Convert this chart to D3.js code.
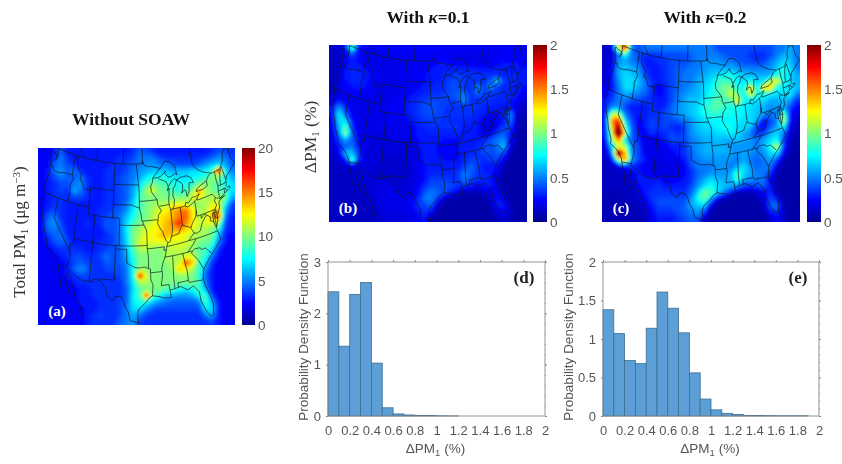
<!DOCTYPE html>
<html>
<head>
<meta charset="utf-8">
<script src="https://cdn.jsdelivr.net/npm/d3@7"></script>
<style>
  html, body { margin: 0; background: #fff; }
  svg { display: block; filter: blur(0.45px); }
  .serif { font-family: "Liberation Serif", serif; }
  .sans { font-family: "Liberation Sans", sans-serif; }
</style>
</head>
<body>
<svg id="chart" width="842" height="464"></svg>
<script>
// Histogram values, one per 0.1 % bin
const binEdges = d3.range(0, 2, 0.1);
const pdfKappa1 = [2.42, 1.36, 2.37, 2.6, 1.03, 0.16, 0.04, 0.02, 0.01, 0.008, 0.004, 0.002, 0, 0, 0, 0, 0, 0, 0, 0];
const pdfKappa2 = [1.38, 1.07, 0.72, 0.68, 1.14, 1.61, 1.4, 1.08, 0.56, 0.22, 0.08, 0.035, 0.02, 0.008, 0.006, 0.005, 0.003, 0.003, 0.003, 0];

// Map fields, 30 columns by 27 rows
const totalPm1 = [
  [2.5,2.5,3,4.5,3,3,3,3,3,3,3,3,3,3,3.5,4.5,4,3.5,3,3,3,3,3,3,3,3,3.5,4,4,3.5],
  [2.5,2.5,3.5,5,3.5,3,3,3,3,3,3,3,3.5,3.5,4,5,5,5,4,3.5,3.5,3.5,3.5,3.5,3.5,4,4.5,5.5,5,4],
  [2.5,2.5,4.5,5,4,3.5,3,3,3,3,3,3.5,3.5,4,4.5,5,5.5,5.5,5,5,4.5,4,4,4,4.5,5.5,6.5,7,6,4.5],
  [2.5,3,5,5.5,4.5,5,3.5,3,3,3,3.5,3.5,3.5,4,5,5.5,6,6.5,6.5,6.5,6,6.5,6.5,7,7,7.5,9,19,7.5,5],
  [2.5,3,4,5,4.5,4.5,5,3.5,3,3,3.5,3.5,4,4.5,5,6,7.5,8,8,8,7.5,7,7,7.5,8,8.5,10,10,8,6],
  [2.5,3,3.5,4,4,5,5.5,3.5,3,3,3.5,3.5,4,4.5,5.5,7,9,10,9.5,9,8,8,8,8.5,10,10.5,10,9,8,7],
  [2.5,3,3.5,4,3.5,6,5,3.5,3,3,3.5,3.5,4,4.5,6,8,11,12,10,9.5,9,8,9,10,15,11,10,9,9,7],
  [2.5,3,3.5,3.5,3.5,4,4,3.5,3,3,3.5,3.5,4,4.5,6,9,10,10,10,10,10,10,10,12,13,11,11,11,10,6],
  [2.5,3,3.5,3.5,3,3,3,3,3,3,3.5,3.5,4,5,7,9,10,10.5,11,11,12,12,12,11,10,11,12,12,8,4],
  [2.5,3.5,4,3.5,3,3,3,3,3,3.5,3.5,4,4.5,5.5,7.5,9,10,11,12,12.5,14,15,15.5,13,11,11,13,14,6,3.5],
  [2.5,4.5,5,3.5,3,3,3,3,3,3.5,4,4,5,6.5,8,9.5,10,11,13,13.5,14,15.5,16,13,11,12,14,16.5,5,3],
  [2.5,5,5.5,4,3,3,3,3.5,3,3.5,4.5,4,5,7,9,10,11,12,13,14,15,17.5,15,13,11.5,12,12,11,4,3],
  [2.5,4.5,5,4.5,3,3,3,3,3,3,4,4,5,7.5,10,11,12,12.5,13,14,14,14.5,13.5,12,11,11,10,8,3.5,3],
  [2.5,3.5,4.5,5,3.5,3,3,3,3,3,3.5,4,5,7,10,11,12.5,12.5,13.5,14,13,12.5,12,11,11,10.5,10,6,3,2.5],
  [2.5,3,4,4.5,4,3,3,3,3,3.5,3.5,4,5,7,10,12,12,12,12,12,12,12,12,11,10,9.5,9,5,3,2.5],
  [2.5,2.5,3,3.5,3.5,3.5,3.5,3,3,3.5,4,4,4.5,6.5,9,11,11,10.5,10,11,11.5,11.5,11,10.5,9.5,9,7,3.5,2.5,2.5],
  [2.5,2.5,2.5,3,3.5,4,4,3.5,3.5,4,5,4,4.5,6,8.5,10,10,10,10,11,11,11,12,12,9.5,8.5,5,3,2.5,2.5],
  [2.5,2.5,2.5,2.5,3,4,4.5,4,3.5,3.5,4.5,4,4.5,5.5,8,10,10,10,10,10.5,11,11.5,16.5,14,9,7,3.5,2.5,2.5,2.5],
  [2.5,2.5,2.5,2.5,3,4.5,5.5,4.5,3.5,3.5,4,4,4,5,8,11,10.5,10,10,10,10.5,14,12.5,11,9,5.5,3,2.5,2.5,2.5],
  [2.5,2.5,2.5,2.5,3,3.5,4,4,3.5,3.5,3.5,3.5,4,5,8,18,12,10,10,10,10,10.5,10.5,10,8.5,4.5,3,2.5,2.5,2.5],
  [2.5,2.5,2.5,2.5,2.5,3,3.5,3.5,3.5,3.5,3.5,3.5,3.5,5,7.5,11,11,10,10,10,10,10,10,10,9,5,3,2.5,2.5,2.5],
  [2.5,2.5,2.5,2.5,2.5,2.5,3,3,3.5,3.5,3.5,3.5,3.5,4.5,7,9.5,10,10,10,9.5,9,8,7.5,8,9,6,3,2.5,2.5,2.5],
  [2.5,2.5,2.5,2.5,2.5,2.5,3,3,3.5,3.5,3.5,3.5,3.5,4.5,7.5,9,17,9.5,8,6.5,6,5.5,5.5,6,8,9,4,2.5,2.5,2.5],
  [2.5,2.5,2.5,2.5,2.5,2.5,3,3,3,3.5,3.5,3.5,4,4.5,7.5,8.5,8,6.5,5.5,5,4.5,4.5,4.5,4.5,5,9,6,3,2.5,2.5],
  [2.5,2.5,2.5,2.5,2.5,2.5,2.5,3,3,3.5,3.5,3.5,4,5,7,7,5.5,4.5,4,4,4,4,4,4,4,7.5,7,3,2.5,2.5],
  [2.5,2.5,2.5,2.5,2.5,2.5,2.5,3,3.5,4,3.5,3.5,4,5,6,5,4,3.5,3.5,3.5,3.5,3.5,3.5,3.5,3.5,5,6,3,2.5,2.5],
  [2.5,2.5,2.5,2.5,2.5,2.5,2.5,3,3.5,3.5,3.5,3.5,4.5,5,5.5,4,3.5,3.5,3.5,3.5,3.5,3.5,3.5,3.5,3.5,3.5,4,3,2.5,2.5]
];
const deltaKappa1 = [
  [.15,.15,.3,.9,.3,.25,.25,.25,.25,.25,.28,.28,.28,.28,.28,.28,.28,.25,.25,.25,.25,.25,.25,.25,.25,.25,.25,.28,.28,.28],
  [.12,.15,.25,.4,.28,.25,.22,.22,.22,.25,.25,.25,.25,.25,.25,.25,.25,.25,.22,.22,.22,.22,.22,.22,.22,.25,.25,.25,.28,.28],
  [.12,.15,.25,.3,.28,.25,.22,.22,.22,.22,.22,.25,.25,.25,.25,.28,.28,.28,.25,.25,.22,.22,.2,.2,.22,.25,.28,.28,.28,.25],
  [.12,.15,.28,.32,.3,.28,.25,.22,.22,.22,.22,.25,.25,.25,.25,.28,.3,.3,.3,.3,.3,.3,.28,.28,.28,.3,.3,.3,.3,.28],
  [.12,.18,.3,.32,.32,.3,.28,.22,.2,.2,.22,.25,.25,.25,.28,.3,.3,.33,.35,.38,.35,.35,.35,.35,.35,.35,.32,.32,.32,.3],
  [.12,.18,.28,.32,.32,.3,.25,.22,.2,.2,.22,.25,.25,.25,.28,.3,.3,.35,.4,.4,.38,.35,.35,.35,.45,.7,.38,.35,.32,.3],
  [.12,.18,.25,.28,.3,.28,.25,.22,.2,.2,.22,.25,.25,.28,.3,.32,.33,.35,.4,.42,.35,.35,.55,.4,.55,.38,.33,.32,.3,.28],
  [.15,.2,.25,.25,.25,.25,.22,.22,.2,.2,.22,.25,.28,.3,.33,.35,.35,.38,.42,.45,.5,.35,.45,.38,.35,.35,.33,.33,.3,.22],
  [.2,.3,.25,.22,.22,.22,.22,.22,.22,.22,.25,.28,.32,.35,.38,.4,.4,.38,.38,.4,.55,.35,.35,.35,.35,.33,.32,.3,.25,.15],
  [.3,.55,.35,.22,.2,.2,.2,.22,.22,.25,.25,.28,.32,.36,.42,.42,.4,.38,.35,.35,.35,.35,.35,.33,.3,.3,.3,.3,.2,.12],
  [.3,.75,.45,.25,.2,.2,.22,.22,.22,.25,.25,.28,.33,.36,.4,.42,.4,.36,.36,.36,.36,.35,.33,.3,.28,.28,.3,.55,.15,.1],
  [.25,.7,.7,.3,.22,.2,.22,.24,.22,.25,.22,.25,.3,.33,.36,.38,.38,.35,.34,.34,.34,.33,.3,.25,.14,.25,.3,.5,.12,.08],
  [.22,.6,.95,.35,.22,.2,.22,.22,.22,.22,.22,.22,.25,.3,.33,.35,.35,.35,.35,.35,.3,.3,.3,.2,.14,.28,.38,.4,.1,.08],
  [.2,.5,1.05,.45,.22,.2,.2,.2,.2,.2,.22,.22,.25,.3,.3,.32,.32,.32,.32,.33,.3,.3,.28,.22,.25,.38,.45,.3,.08,.08],
  [.18,.4,.6,.45,.25,.22,.18,.18,.18,.2,.2,.22,.22,.28,.3,.3,.3,.28,.28,.28,.3,.3,.3,.33,.42,.5,.55,.25,.08,.07],
  [.16,.3,.45,.5,.3,.2,.18,.18,.18,.18,.18,.18,.2,.28,.3,.3,.28,.28,.28,.28,.3,.3,.33,.4,.4,.5,.65,.2,.08,.07],
  [.15,.22,.65,.65,.35,.2,.18,.18,.18,.18,.18,.18,.18,.25,.3,.3,.28,.28,.28,.28,.3,.33,.36,.4,.4,.45,.4,.12,.07,.07],
  [.14,.18,.3,.95,.35,.2,.18,.18,.15,.15,.15,.15,.18,.25,.3,.3,.3,.28,.28,.28,.33,.38,.38,.33,.38,.38,.2,.08,.07,.07],
  [.13,.14,.15,.2,.22,.2,.18,.16,.15,.15,.15,.15,.18,.22,.28,.3,.3,.3,.3,.3,.38,.45,.38,.3,.3,.28,.1,.07,.07,.07],
  [.13,.13,.14,.15,.18,.2,.18,.16,.15,.15,.15,.15,.18,.22,.28,.33,.33,.33,.33,.36,.5,.45,.36,.33,.3,.2,.08,.07,.07,.07],
  [.13,.13,.13,.14,.16,.18,.18,.18,.18,.18,.15,.15,.18,.22,.28,.38,.38,.38,.36,.36,.5,.4,.36,.33,.3,.14,.07,.07,.07,.07],
  [.13,.13,.13,.13,.15,.16,.18,.18,.2,.18,.18,.18,.18,.25,.35,.42,.42,.42,.4,.36,.35,.3,.25,.28,.3,.2,.07,.07,.07,.07],
  [.12,.12,.12,.13,.14,.15,.18,.2,.2,.2,.2,.2,.2,.28,.42,.5,.45,.4,.3,.2,.1,.09,.1,.14,.2,.25,.1,.07,.07,.07],
  [.12,.12,.12,.12,.13,.14,.16,.2,.22,.22,.22,.22,.24,.33,.5,.5,.35,.14,.08,.07,.07,.07,.07,.07,.14,.3,.2,.08,.07,.07],
  [.12,.12,.12,.12,.12,.13,.15,.18,.22,.22,.22,.22,.25,.35,.4,.45,.14,.07,.07,.07,.07,.07,.07,.07,.09,.3,.3,.1,.07,.07],
  [.12,.12,.12,.12,.12,.12,.13,.16,.2,.2,.2,.2,.22,.3,.35,.25,.08,.07,.07,.07,.07,.07,.07,.07,.08,.2,.25,.12,.08,.08],
  [.12,.12,.12,.12,.12,.12,.12,.14,.18,.18,.18,.18,.2,.25,.3,.1,.07,.07,.07,.07,.07,.07,.07,.07,.07,.12,.15,.12,.08,.08]
];
const deltaKappa2 = [
  [.15,.2,1.2,1.7,.5,.4,.5,.5,.5,.5,.5,.5,.5,.5,.5,.5,.5,.4,.4,.4,.4,.4,.4,.4,.4,.4,.5,.5,.6,.5],
  [.15,.2,.5,.8,.5,.4,.35,.35,.35,.4,.4,.4,.4,.45,.5,.5,.5,.5,.45,.4,.4,.4,.35,.35,.35,.4,.5,.6,.6,.5],
  [.15,.2,.55,.6,.5,.45,.3,.3,.35,.35,.4,.4,.4,.45,.5,.55,.55,.55,.5,.5,.45,.4,.4,.35,.4,.5,.6,.7,.65,.5],
  [.15,.25,.6,.65,.6,.55,.35,.3,.3,.35,.4,.45,.45,.5,.5,.55,.6,.6,.6,.6,.55,.5,.5,.5,.5,.55,.65,.8,.7,.5],
  [.15,.3,.6,.7,.65,.6,.4,.3,.3,.35,.4,.45,.5,.5,.55,.6,.65,.7,.75,.8,.7,.65,.6,.6,.6,.6,.8,.8,.7,.6],
  [.15,.3,.55,.7,.7,.65,.5,.35,.3,.35,.4,.45,.5,.5,.6,.65,.7,.85,.9,.85,.75,.7,.8,.7,.7,1.1,1.3,.8,.7,.6],
  [.2,.3,.5,.7,.7,.6,.5,.35,.25,.3,.4,.45,.5,.55,.6,.7,.75,.9,1,1,.8,.8,1.3,.75,1.3,1.4,.8,.75,.7,.65],
  [.25,.35,.5,.6,.55,.5,.45,.35,.25,.3,.4,.5,.55,.6,.6,.7,.8,.85,.95,1.2,1,.75,1.2,.85,.8,.75,.7,.7,.75,.5],
  [.3,.4,.5,.5,.4,.4,.35,.35,.3,.3,.4,.5,.6,.65,.65,.75,.85,.95,.9,.9,1.3,.8,.7,.7,.7,.6,.6,.65,.55,.35],
  [.3,.55,.55,.4,.3,.3,.3,.35,.3,.35,.45,.55,.6,.65,.7,.8,.9,.95,.85,.8,.8,.75,.7,.65,.6,.55,.55,.6,.4,.25],
  [.3,1.1,1.1,.5,.35,.3,.3,.35,.35,.4,.45,.55,.6,.65,.7,.8,.85,.85,.8,.8,.75,.75,.7,.65,.6,.5,.5,1,.3,.2],
  [.3,1.5,1.7,.7,.4,.25,.3,.4,.35,.4,.4,.45,.5,.55,.65,.7,.75,.75,.75,.75,.75,.7,.7,.6,.25,.4,.5,1.2,.25,.15],
  [.3,1.3,2.1,.9,.45,.25,.3,.4,.35,.4,.35,.3,.4,.55,.65,.7,.7,.75,.8,.8,.7,.7,.65,.35,.25,.45,.6,.8,.2,.12],
  [.3,1.1,2.6,1.1,.45,.3,.25,.35,.3,.35,.4,.35,.4,.55,.6,.65,.65,.7,.7,.75,.7,.6,.5,.35,.4,.6,.7,.5,.15,.1],
  [.25,1,1.5,.7,.45,.35,.2,.2,.25,.3,.4,.4,.4,.5,.55,.6,.6,.65,.6,.6,.65,.6,.55,.5,.6,.7,.8,.4,.12,.08],
  [.2,.7,1.2,1.1,.5,.4,.2,.2,.2,.25,.3,.3,.35,.5,.55,.6,.6,.6,.6,.55,.55,.55,.55,.5,.6,.8,1.2,.35,.1,.08],
  [.15,.5,2.3,1.4,.5,.4,.25,.2,.2,.2,.25,.3,.35,.45,.55,.6,.6,.6,.6,.6,.55,.6,.55,.5,.55,.7,.75,.25,.08,.06],
  [.14,.3,1.1,1.5,.6,.4,.3,.2,.2,.2,.2,.25,.3,.45,.5,.55,.55,.55,.55,.55,.5,.6,.5,.45,.5,.6,.4,.12,.06,.06],
  [.13,.15,.2,.3,.35,.3,.25,.2,.15,.2,.2,.2,.25,.4,.5,.5,.5,.55,.55,.5,.6,.7,.55,.45,.5,.5,.2,.08,.06,.06],
  [.12,.12,.13,.15,.25,.3,.25,.2,.2,.2,.2,.2,.25,.35,.45,.5,.55,.55,.55,.6,.9,.7,.6,.5,.5,.35,.12,.06,.06,.06],
  [.12,.12,.12,.13,.2,.3,.3,.3,.3,.25,.25,.25,.3,.35,.5,.6,.7,.65,.6,.6,.9,.6,.55,.5,.5,.2,.08,.06,.06,.06],
  [.12,.12,.12,.12,.15,.25,.3,.3,.35,.3,.3,.3,.3,.4,.55,.7,.8,.7,.65,.6,.55,.4,.35,.4,.45,.3,.08,.06,.06,.06],
  [.11,.11,.11,.12,.13,.2,.3,.35,.35,.35,.35,.35,.35,.45,.7,1,.9,.7,.5,.3,.12,.1,.12,.15,.25,.35,.15,.06,.06,.06],
  [.11,.11,.11,.11,.12,.15,.25,.35,.4,.4,.4,.4,.4,.55,.8,.95,.6,.2,.1,.08,.08,.08,.08,.08,.2,.4,.3,.08,.06,.06],
  [.1,.1,.1,.1,.11,.12,.2,.3,.4,.4,.4,.4,.45,.6,.65,.7,.2,.08,.07,.07,.07,.07,.07,.08,.1,.45,.5,.12,.06,.06],
  [.1,.1,.1,.1,.1,.11,.15,.25,.35,.35,.35,.4,.45,.5,.55,.4,.1,.07,.07,.07,.07,.07,.07,.07,.08,.3,.35,.12,.06,.06],
  [.1,.1,.1,.1,.1,.1,.12,.2,.3,.3,.3,.35,.4,.45,.45,.15,.07,.07,.07,.07,.07,.07,.07,.07,.07,.15,.25,.15,.07,.07]
];

// Coast, border and lake lines as [lon, lat]
const coastLines = [
  [[-122.75,49],[-122.5,48.5],[-122.4,47.6],[-122.9,47.2],[-122.6,48.1],[-123.5,48.15],[-124.7,48.38],[-124.65,47.7],[-124.1,46.9],[-124,46.25],[-124,45],[-124.1,44],[-124.5,42.8],[-124.2,42],[-124.1,41],[-124.4,40.4],[-123.8,39.5],[-123,38.3],[-122.5,37.7],[-121.9,36.6],[-120.7,35.2],[-120.6,34.55],[-119.2,34.15],[-118.4,33.8],[-117.3,33],[-117.1,32.53],[-116,30.8],[-115.5,29.5]],
  [[-114.8,31.8],[-114.6,30.5],[-113.3,28.8]],
  [[-114.8,31.8],[-113.5,31.3],[-112.8,30],[-112,28.8],[-110.8,27.9],[-109.5,26]],
  [[-117.1,32.53],[-114.72,32.72],[-114.8,32.5],[-111.07,31.33],[-108.2,31.33],[-108.2,31.78],[-106.5,31.75],[-104.9,30.6],[-104.5,29.6],[-103.2,29],[-102.7,29.7],[-101.4,29.77],[-100.7,29.1],[-100.3,28.3],[-99.5,27.5],[-99.1,26.4],[-97.15,25.95]],
  [[-97.15,25.95],[-97.8,24],[-97.4,22]],
  [[-97.15,25.95],[-97.4,27.3],[-97,28],[-95.3,28.9],[-94.7,29.4],[-93.8,29.7],[-92.3,29.5],[-91,29.2],[-89.4,29.1],[-89.6,30.15],[-88,30.3],[-87,30.4],[-85.4,29.7],[-84,30.05],[-82.8,29],[-82.7,27.7],[-81.8,26],[-81,25.15],[-80.4,25.2],[-80.05,26.8],[-80.6,28.4],[-81.3,29.8],[-81.4,30.7],[-80.9,32],[-79.2,33.2],[-77.9,33.9],[-76.5,34.7],[-75.5,35.25],[-75.9,36.6],[-76,36.9],[-76.4,37.9],[-76.4,39.2],[-76,39.4],[-75.9,38],[-75.95,37.15],[-75.3,38],[-75.1,38.6],[-75.5,39.4],[-75.4,39.8],[-74.9,38.95],[-74.1,39.7],[-74,40.5],[-73.9,40.6],[-72,41],[-73.7,40.9],[-72,41.3],[-71,41.5],[-70.6,41.6],[-70,41.7],[-70.2,42],[-70.7,41.9],[-71,42.3],[-70.7,43],[-70.2,43.6],[-69,44],[-67,44.8],[-67.4,45.3],[-67.8,45.7],[-67.8,47.07],[-68.3,47.35],[-69.2,47.45],[-70,46.7],[-70.3,45.9],[-71.3,45.3],[-71.5,45],[-74.7,45],[-75.3,44.85],[-76.3,44.2]],
  [[-76.2,44.1],[-76.2,43.5],[-77.5,43.25],[-79,43.27],[-79.7,43.3],[-79.3,43.65],[-78,43.95],[-76.5,44.2],[-76.2,44.1]],
  [[-78.9,42.8],[-80,42.15],[-81.3,41.75],[-82.7,41.45],[-83.4,41.7],[-83.1,42.2],[-82.4,42],[-81,42.65],[-80,42.6],[-78.9,42.85]],
  [[-82.45,43],[-82.55,43.9],[-83,44.05],[-83.9,43.7],[-83.4,44.3],[-83.3,45],[-84.7,45.75],[-84.1,46],[-83.5,46.05],[-81.7,46],[-80.5,45.5],[-80,44.7],[-81.3,44.9],[-81.7,43.6],[-82.45,43]],
  [[-87.5,41.65],[-87.05,41.7],[-86.5,42.1],[-86.2,43],[-86.5,43.7],[-86.2,44.7],[-85.6,45],[-85,45.7],[-84.7,45.8],[-85.5,46.05],[-86.5,45.8],[-87.6,45.1],[-88,44.55],[-87.4,44.9],[-87.6,44],[-87.9,43],[-87.8,42.2],[-87.5,41.65]],
  [[-84.6,46.5],[-85,46.8],[-86.5,46.5],[-87.4,46.5],[-88.4,47.35],[-88,47.45],[-89.5,46.85],[-90.8,46.7],[-92.1,46.75],[-90.5,47.6],[-89.5,48],[-88.2,48.9],[-86.5,48.75],[-85,47.95],[-84.6,46.5]],
  [[-89.5,48],[-90.8,48.2],[-92.5,48.5],[-93.8,48.55],[-94.7,48.8],[-95.15,49.4],[-95.15,49],[-122.75,49]],
  [[-95.15,49],[-95.15,53]], [[-101.4,49],[-101.4,53]], [[-110,49],[-110,53]], [[-114.1,49],[-120,53]],
  [[-79.5,53],[-79.5,47.5],[-78.5,46.5],[-76.5,45.6],[-74.5,45.1]],
  [[-67.8,47.07],[-66,48.1]], [[-69.2,47.45],[-68,48.5]]
];
const stateLines = [
  [[-124,46.25],[-123.2,46.15],[-122.9,45.7],[-122.2,45.6],[-121.2,45.65],[-119.3,45.93],[-116.92,46]],
  [[-117.03,49],[-117.04,46.4],[-116.92,46],[-116.5,45.5],[-116.9,44.9],[-117.2,44.4],[-117.03,43.8],[-117.03,42]],
  [[-124.2,42],[-111.05,42]], [[-111.05,42],[-111.05,41],[-109.05,41],[-109.05,31.33]],
  [[-116.05,49],[-116.05,48],[-115.7,47.5],[-114.7,46.7],[-114.3,46.65],[-114.5,45.6],[-113.9,45.6],[-113.5,45.1],[-113,44.45],[-111.5,44.55],[-111.05,44.5]],
  [[-111.05,45],[-111.05,42]], [[-111.05,45],[-104.05,45]], [[-104.05,49],[-104.05,41]],
  [[-120,42],[-120,39],[-114.63,35],[-114.4,34.2],[-114.7,33.4],[-114.72,32.72]],
  [[-114.63,35],[-114.7,36.1],[-114.05,36.2],[-114.05,42]], [[-114.05,37],[-94.62,37]],
  [[-109.05,41],[-102.05,41],[-102.05,37]], [[-104.05,43],[-98.5,43],[-97.9,42.8],[-96.45,42.5]],
  [[-104.05,45.94],[-96.56,45.94]], [[-102.05,40],[-95.3,40]],
  [[-103,37],[-103,32],[-106.6,32],[-106.5,31.75]],
  [[-103,36.5],[-100,36.5],[-100,34.56],[-99,34.2],[-97.9,33.9],[-97,33.8],[-95.5,33.9],[-94.48,33.64],[-94.04,33.55],[-94.04,32],[-93.55,31.2],[-93.8,30],[-93.8,29.7]],
  [[-94.62,36.5],[-94.43,35.4],[-94.48,33.64]],
  [[-97.2,49],[-96.6,46.3],[-96.56,45.94],[-96.45,45.3],[-96.45,42.5],[-96,41.5],[-95.85,40.7],[-95.3,40],[-94.6,39.1],[-94.62,36.5]],
  [[-96.45,43.5],[-91.22,43.5]], [[-95.77,40.58],[-91.7,40.6],[-91.4,40.4]],
  [[-92.1,46.75],[-92.3,46.1],[-92.9,45.6],[-92.75,44.75],[-91.22,43.5],[-91.1,42.7],[-90.2,41.8],[-91.1,41.2],[-91.4,40.4],[-91.5,40],[-90.7,39],[-90.2,38.7],[-90.2,38.4],[-89.5,37.3],[-89.15,37],[-89.5,36.5],[-89.7,36],[-90.1,35.1],[-90.6,34.5],[-91.2,33.5],[-91.1,32.5],[-91.6,31],[-89.75,31],[-89.6,30.2]],
  [[-90.65,42.5],[-87.8,42.5]], [[-90.4,46.55],[-88.1,45.9],[-87.6,45.1]],
  [[-87.53,41.7],[-87.53,39.35],[-87.6,38.7],[-88.05,37.8]],
  [[-89.15,37],[-88.5,37.1],[-88.05,37.8],[-87,37.9],[-86,38],[-85.4,38.7],[-84.8,39.1],[-84,38.8],[-82.6,38.4],[-82,39],[-80.9,39.7],[-80.52,40.64]],
  [[-84.8,41.7],[-84.8,39.1]], [[-87.05,41.76],[-84.8,41.7],[-83.45,41.73]],
  [[-80.52,42],[-80.52,39.72]], [[-79.76,42.27],[-79.76,42],[-75.35,42],[-74.7,41.36],[-75.1,40.9],[-74.75,40.2],[-75.4,39.8]],
  [[-74.7,41.36],[-73.9,41]], [[-80.52,39.72],[-75.79,39.72],[-75.7,38.46],[-75.05,38.45]],
  [[-75.87,36.55],[-81.7,36.59],[-83.67,36.6],[-88.07,36.5],[-89.5,36.5]],
  [[-83.67,36.6],[-82,37.5],[-82.6,38.2],[-82.6,38.4]],
  [[-82,37.5],[-81.3,37.3],[-80.3,37.5],[-79.5,38.5],[-78.4,39.2],[-77.8,39.3]],
  [[-79.48,39.72],[-79.48,39.2],[-78.4,39.6],[-77.75,39.3],[-77,38.9],[-77.3,38.4],[-76.3,38]],
  [[-81.7,36.59],[-82.5,36],[-84.3,35]], [[-90.3,35],[-83.1,35],[-82.4,35.2],[-81,35.1],[-80.8,34.8],[-79.7,34.8],[-78.55,33.85]],
  [[-83.1,35],[-83.35,34.7],[-81.9,33.4],[-81.1,32.1],[-80.9,32]],
  [[-85.6,35],[-85.18,32.9],[-85,32.3],[-85,31],[-84.87,30.7],[-82.2,30.55],[-82,30.4],[-81.45,30.7]],
  [[-87.6,31],[-85,31]], [[-87.6,31],[-87.5,30.3]], [[-88.2,35],[-88.47,31.9],[-88.4,30.3]],
  [[-94.04,33],[-91.2,33]], [[-94.62,36.5],[-90.15,36.5],[-90.37,36],[-89.7,36]],
  [[-73.35,45],[-73.4,43.6],[-73.25,42.75],[-73.5,42.05],[-73.5,41.3],[-73.65,41]],
  [[-73.25,42.75],[-71.3,42.7],[-70.85,42.87]], [[-73.5,42.05],[-71.8,42.02],[-71.38,42.02],[-71.2,41.5]],
  [[-71.8,42.02],[-71.85,41.32]], [[-71.5,45],[-72.05,44.2],[-72.45,43],[-72.45,42.73]], [[-70.7,43.1],[-71.05,45.3]]
];

const svg = d3.select('#chart');

// MATLAB jet, on a 0 to 1 scale
const jet = d3.scaleLinear()
  .domain([0, 0.125, 0.375, 0.625, 0.875, 1])
  .range(['#00008f', '#0000ff', '#00ffff', '#ffff00', '#ff0000', '#800000']);

const lambert = d3.geoConicConformal().parallels([30, 60]).rotate([99, 0]).scale(404).translate([0, 0]);
const southY = lambert([-99, 26])[1];

// Insert points so that long borders follow the curve of the projection
function densify(line) {
  const out = [];
  line.forEach((p, i) => {
    if (i === 0) { out.push(p); return; }
    const q = line[i - 1];
    const steps = Math.ceil(Math.hypot(p[0] - q[0], p[1] - q[1]));
    for (let s = 1; s <= steps; s++) {
      out.push([q[0] + (p[0] - q[0]) * s / steps, q[1] + (p[1] - q[1]) * s / steps]);
    }
  });
  return out;
}

function drawMap(id, x, y, w, h, field, maxValue, label) {
  const nCols = field[0].length;
  const nRows = field.length;
  const color = v => jet(Math.min(v, maxValue) / maxValue);

  svg.append('clipPath').attr('id', 'clip' + id)
    .append('rect').attr('x', x).attr('y', y).attr('width', w).attr('height', h);
  const map = svg.append('g').attr('clip-path', `url(#clip${id})`);
  map.append('rect').attr('x', x).attr('y', y).attr('width', w).attr('height', h).attr('fill', color(d3.min(field.flat())));

  // Repeat the edges so the blur does not fade at the frame
  const padded = [field[0], ...field, field[nRows - 1]].map(r => [r[0], ...r, r[nCols - 1]]);
  const xScale = d3.scaleLinear().domain([1, nCols + 1]).range([x, x + w]);
  const yScale = d3.scaleLinear().domain([1, nRows + 1]).range([y, y + h]);
  const path = d3.geoPath(d3.geoTransform({
    point(px, py) { this.stream.point(xScale(px), yScale(py)); }
  }));
  const levels = d3.range(0, maxValue, maxValue / 70);
  const contours = d3.contours().size([nCols + 2, nRows + 2]).thresholds(levels)(padded.flat());
  map.append('g').attr('filter', 'url(#soft)')
    .selectAll('path').data(contours).join('path')
    .attr('d', path)
    .attr('fill', d => color(d.value));

  const line = d3.line()
    .x(d => x + w * 0.47 + 0.69 * lambert(d)[0] * w / 197)
    .y(d => y + h * 0.99 + (lambert(d)[1] - southY) * h / 177);
  map.append('g').selectAll('path').data([...coastLines, ...stateLines]).join('path')
    .attr('d', d => line(densify(d)))
    .attr('fill', 'none')
    .attr('stroke', '#101828')
    .attr('stroke-width', 0.7);

  svg.append('text').attr('class', 'serif')
    .attr('x', x + 19).attr('y', y + h - 9)
    .attr('text-anchor', 'middle')
    .attr('font-size', 15).attr('font-weight', 'bold').attr('fill', '#fff')
    .text(label);
}

function drawColorbar(id, x, y, w, h, maxValue, ticks) {
  const grad = svg.append('linearGradient').attr('id', 'bar' + id)
    .attr('x1', 0).attr('y1', 1).attr('x2', 0).attr('y2', 0);
  jet.domain().forEach(t => grad.append('stop').attr('offset', t).attr('stop-color', jet(t)));
  svg.append('rect').attr('x', x).attr('y', y).attr('width', w).attr('height', h).attr('fill', `url(#bar${id})`);
  const scale = d3.scaleLinear().domain([0, maxValue]).range([y + h, y]);
  const axis = svg.append('g').attr('transform', `translate(${x + w},0)`)
    .attr('class', 'sans')
    .call(d3.axisRight(scale).tickValues(ticks).tickFormat(d3.format('~g')).tickSize(0).tickPadding(3));
  axis.select('.domain').remove();
  axis.selectAll('text').attr('font-size', 13.5).attr('fill', '#555');
}

function drawHistogram(x, y, w, h, values, yMax, yTicks, yMinorStep, yLabelOffset, label) {
  const xScale = d3.scaleLinear().domain([0, 2]).range([x, x + w]);
  const yScale = d3.scaleLinear().domain([0, yMax]).range([y + h, y]);
  const g = svg.append('g').attr('class', 'sans');

  g.selectAll('rect.bar').data(values).join('rect')
    .attr('class', 'bar')
    .attr('x', (d, i) => xScale(binEdges[i]))
    .attr('y', d => yScale(d))
    .attr('width', xScale(0.1) - xScale(0))
    .attr('height', d => yScale(0) - yScale(d))
    .attr('fill', '#5b9fd6')
    .attr('stroke', '#3c6e92')
    .attr('stroke-width', 0.8);

  g.append('rect').attr('x', x).attr('y', y).attr('width', w).attr('height', h)
    .attr('fill', 'none').attr('stroke', '#8a8a8a').attr('stroke-width', 0.9);

  const xTicks = d3.range(0, 2.01, 0.2);
  const bottom = g.append('g').attr('transform', `translate(0,${y + h})`)
    .call(d3.axisBottom(xScale).tickValues(xTicks).tickFormat(d3.format('~g')).tickSize(0).tickPadding(10));
  const top = g.append('g').attr('transform', `translate(0,${y})`)
    .call(d3.axisTop(xScale).tickValues(xTicks).tickFormat('').tickSize(2));
  const left = g.append('g').attr('transform', `translate(${x},0)`)
    .call(d3.axisLeft(yScale).tickValues(yTicks).tickFormat(d3.format('~g')).tickSize(2).tickPadding(5));
  const right = g.append('g').attr('transform', `translate(${x + w},0)`)
    .call(d3.axisRight(yScale).tickValues(yTicks).tickFormat('').tickSize(2));
  const minor = g.append('g').attr('transform', `translate(${x + w},0)`)
    .call(d3.axisRight(yScale).tickValues(d3.range(0, yMax + 1e-6, yMinorStep)).tickFormat('').tickSize(1));
  [bottom, top, left, right, minor].forEach(a => {
    a.select('.domain').remove();
    a.selectAll('line').attr('stroke', '#8a8a8a');
    a.selectAll('text').attr('font-size', 13).attr('fill', '#555');
  });

  g.append('text')
    .attr('transform', `translate(${x - yLabelOffset},${y + h / 2 - 2}) rotate(-90)`)
    .attr('text-anchor', 'middle').attr('font-size', 13.5).attr('fill', '#555')
    .text('Probability Density Function');

  const xLabel = g.append('text').attr('x', x + w / 2 - 1).attr('y', y + h + 37)
    .attr('text-anchor', 'middle').attr('font-size', 13.5).attr('fill', '#555');
  xLabel.append('tspan').text('ΔPM');
  xLabel.append('tspan').attr('font-size', 9.5).attr('dy', 3).text('1');
  xLabel.append('tspan').attr('dy', -3).text(' (%)');

  svg.append('text').attr('class', 'serif')
    .attr('x', x + w - 21).attr('y', y + 21)
    .attr('text-anchor', 'middle').attr('font-size', 17).attr('font-weight', 'bold').attr('fill', '#222')
    .text(label);
}

// Softens the contour facets
svg.append('filter').attr('id', 'soft').attr('x', '-5%').attr('y', '-5%').attr('width', '110%').attr('height', '110%')
  .append('feGaussianBlur').attr('stdDeviation', 1.6);

drawMap('a', 38, 148, 197, 177, totalPm1, 20, '(a)');
drawMap('b', 329, 45, 198, 177, deltaKappa1, 2, '(b)');
drawMap('c', 602, 45, 198, 177, deltaKappa2, 2, '(c)');

drawColorbar('a', 242, 148, 13, 177, 20, [0, 5, 10, 15, 20]);
drawColorbar('b', 533, 45, 14, 177, 2, [0, 0.5, 1, 1.5, 2]);
drawColorbar('c', 807, 45, 14, 177, 2, [0, 0.5, 1, 1.5, 2]);

drawHistogram(328, 262, 217, 154, pdfKappa1, 3, [0, 1, 2, 3], 0.2, 20, '(d)');
drawHistogram(603, 262, 216, 154, pdfKappa2, 2, [0, 0.5, 1, 1.5, 2], 0.1, 30, '(e)');

// Titles
function title(x, y, parts) {
  const t = svg.append('text').attr('class', 'serif')
    .attr('x', x).attr('y', y)
    .attr('text-anchor', 'middle').attr('font-size', 17.5).attr('font-weight', 'bold').attr('fill', '#111');
  parts.forEach(p => t.append('tspan').attr('font-style', p.italic ? 'italic' : 'normal').text(p.text));
}
title(131, 125, [{ text: 'Without SOAW' }]);
title(428, 23, [{ text: 'With ' }, { text: 'κ', italic: true }, { text: '=0.1' }]);
title(705, 23, [{ text: 'With ' }, { text: 'κ', italic: true }, { text: '=0.2' }]);

// Map axis labels
const pmLabel = svg.append('text').attr('class', 'serif')
  .attr('transform', 'translate(25,232) rotate(-90)')
  .attr('text-anchor', 'middle').attr('font-size', 17).attr('fill', '#333');
pmLabel.append('tspan').text('Total PM');
pmLabel.append('tspan').attr('font-size', 11).attr('dy', 3).text('1');
pmLabel.append('tspan').attr('dy', -3).text(' (μg m');
pmLabel.append('tspan').attr('font-size', 11).attr('dy', -5).text('−3');
pmLabel.append('tspan').attr('dy', 5).text(')');

const deltaLabel = svg.append('text').attr('class', 'serif')
  .attr('transform', 'translate(316,137) rotate(-90)')
  .attr('text-anchor', 'middle').attr('font-size', 17.5).attr('fill', '#333');
deltaLabel.append('tspan').text('ΔPM');
deltaLabel.append('tspan').attr('font-size', 11).attr('dy', 3).text('1');
deltaLabel.append('tspan').attr('dy', -3).text(' (%)');
</script>
</body>
</html>
